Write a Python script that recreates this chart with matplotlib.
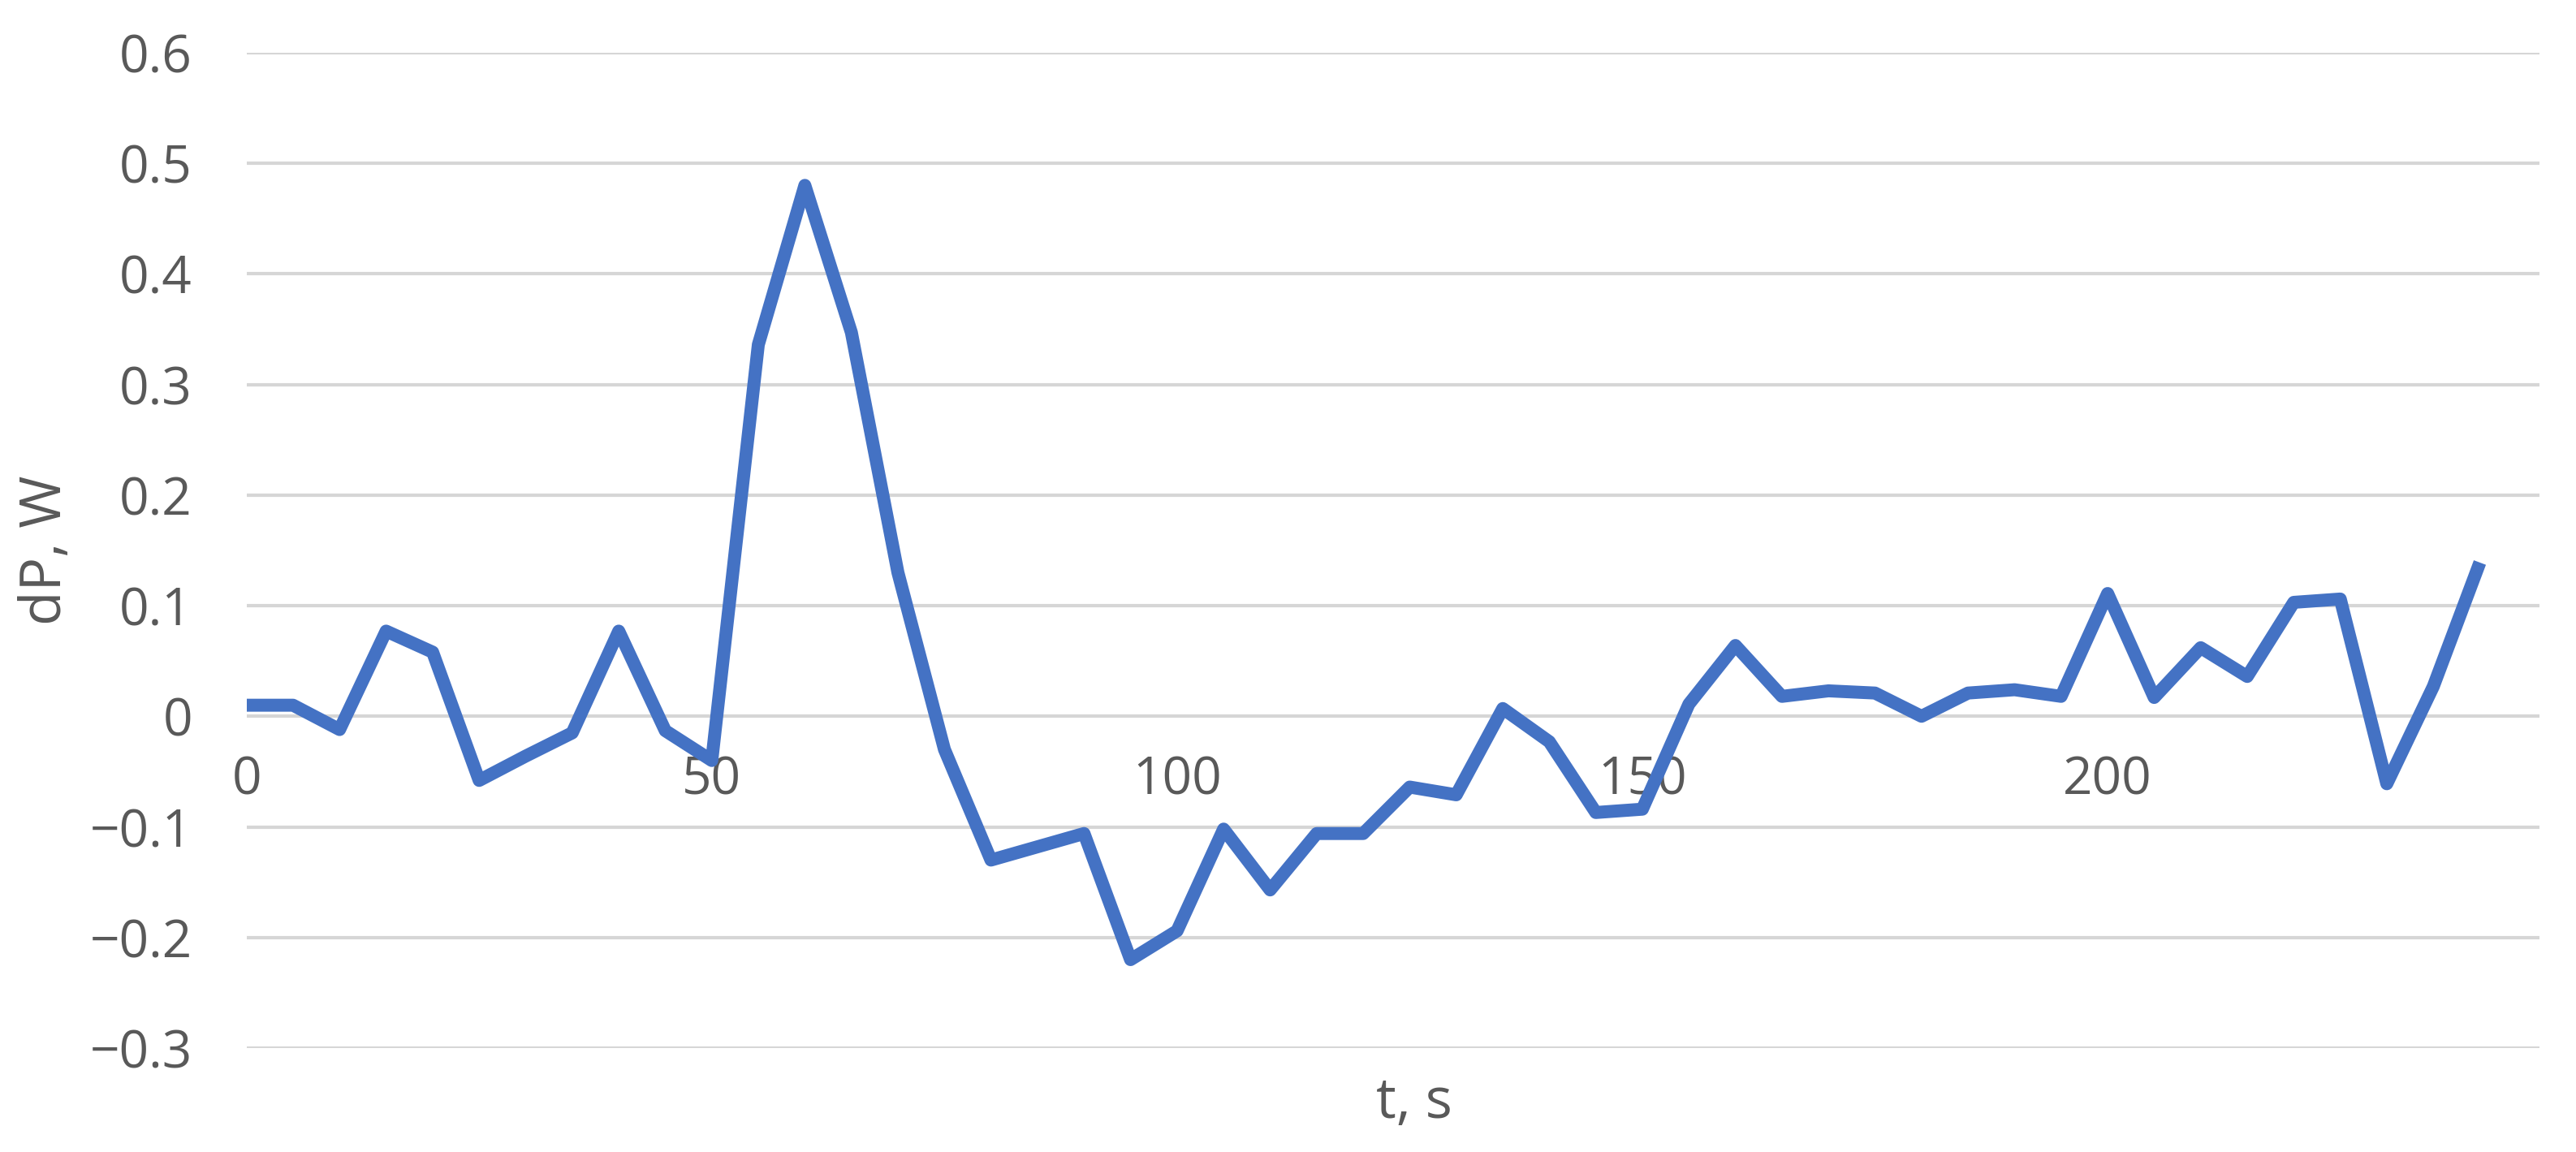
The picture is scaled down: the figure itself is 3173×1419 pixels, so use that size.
import numpy as np
import matplotlib
matplotlib.use("Agg")
import matplotlib.pyplot as plt

# time, s
t = [0, 5, 10, 15, 20, 25, 30, 35, 40, 45, 50, 55, 60, 65, 70, 75, 80, 85, 90, 95,
     100, 105, 110, 115, 120, 125, 130, 135, 140, 145, 150, 155, 160, 165, 170, 175,
     180, 185, 190, 195, 200, 205, 210, 215, 220, 225, 230, 235, 240]
# dP, W
dP = [0.01, 0.01, -0.012, 0.077, 0.058, -0.058, -0.036, -0.015, 0.077, -0.013,
      -0.04, 0.336, 0.48, 0.347, 0.13, -0.03, -0.13, -0.118, -0.106, -0.22,
      -0.194, -0.102, -0.157, -0.106, -0.106, -0.064, -0.071, 0.007, -0.023, -0.087,
      -0.084, 0.011, 0.064, 0.018, 0.023, 0.021, 0.0, 0.021, 0.024, 0.018,
      0.111, 0.017, 0.062, 0.036, 0.103, 0.106, -0.061, 0.027, 0.139]

x_ticks = [0, 50, 100, 150, 200]
y_ticks = [-0.3, -0.2, -0.1, 0, 0.1, 0.2, 0.3, 0.4, 0.5, 0.6]
y_labels = ['\u22120.3', '\u22120.2', '\u22120.1', '0', '0.1', '0.2', '0.3', '0.4', '0.5', '0.6']

plt.rcParams['font.family'] = ['Open Sans', 'DejaVu Sans']
text_color = '#595959'

fig = plt.figure(figsize=(31.73, 14.19), dpi=100)
ax = fig.add_axes([0.0957, 0.0902, 0.8901, 0.8641])

ax.plot(t, dP, color='#4472C4', linewidth=11.5, solid_joinstyle='round', solid_capstyle='butt', zorder=3)

ax.set_xlim(0, 246.4)
ax.set_ylim(-0.3, 0.6)
ax.set_xticks(x_ticks)
ax.set_yticks(y_ticks)
ax.set_yticklabels(y_labels)

# horizontal gridlines only, like the Excel original
ax.grid(axis='y', color='#D6D6D6', linewidth=3, zorder=0)
for s in ['top', 'right', 'left']:
    ax.spines[s].set_visible(False)
ax.spines['bottom'].set_position(('data', 0))
ax.spines['bottom'].set_visible(False)

ax.tick_params(axis='both', length=0, labelsize=46, colors=text_color)
ax.tick_params(axis='y', pad=48)
ax.tick_params(axis='x', pad=34)

fig.text(0.549, 0.042, 't, s', fontsize=50, color=text_color, ha='center', va='center')
fig.text(0.018, 0.522, 'dP, W', fontsize=50, color=text_color, ha='center', va='center', rotation=90)

fig.savefig('out.png', dpi=100)
